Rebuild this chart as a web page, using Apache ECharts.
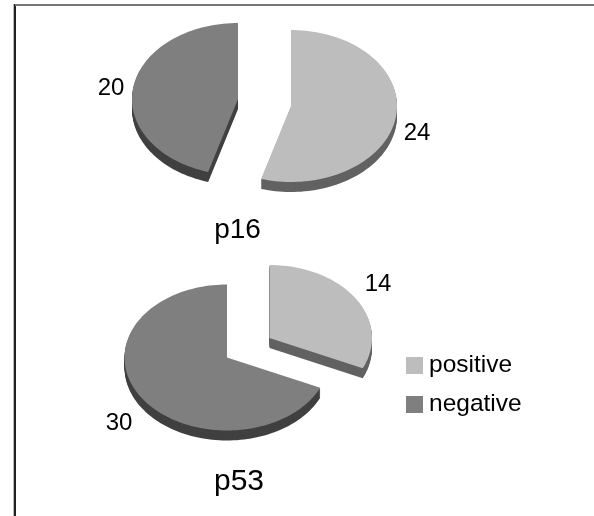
<!DOCTYPE html>
<html>
<head>
<meta charset="utf-8">
<style>html,body{margin:0;padding:0;background:#fff}#chart{width:594px;height:516px}</style>
<script src="https://cdn.jsdelivr.net/npm/echarts@6/dist/echarts.min.js"></script>
</head>
<body>
<div id="chart"></div>
<script>
// Positive / negative case counts for each marker
const categories = ['positive', 'negative'];
const markers = ['p16', 'p53'];
const positiveCounts = [24, 14];
const negativeCounts = [20, 30];

// Tilted-pie geometry for each marker: apex of every exploded slice and ellipse radii
const layouts = {
  p16: { rx: 106, ry: 76, depth: 10, apex: { positive: [291, 106], negative: [238, 99] } },
  p53: { rx: 102.5, ry: 73, depth: 10, apex: { positive: [269.5, 338], negative: [227, 357.5] } }
};
const labelAnchors = {
  p16: { positive: [417, 133], negative: [111, 88] },
  p53: { positive: [378, 284], negative: [119, 423] }
};
const styles = {
  positive: { top: '#bdbdbd', side: '#626262' },
  negative: { top: '#7f7f7f', side: '#404040' }
};

const FONT = '"Liberation Sans", Arial, sans-serif';

// Sector outline on the tilted ellipse; angles run from 12 o'clock
function sectorPoints(apex, rx, ry, startDeg, endDeg, shift) {
  const pts = [[apex[0], apex[1] + shift]];
  const steps = Math.ceil(Math.abs(endDeg - startDeg) / 2);
  for (let i = 0; i <= steps; i++) {
    const a = (startDeg + (endDeg - startDeg) * i / steps) * Math.PI / 180;
    pts.push([apex[0] + rx * Math.sin(a), apex[1] + shift - ry * Math.cos(a)]);
  }
  return pts;
}

// One custom series per category; clockwise for positive, counter-clockwise for negative
function makeSeries(category, values, direction) {
  return {
    type: 'custom',
    name: category,
    coordinateSystem: 'none',
    itemStyle: { color: styles[category].top },
    data: values.map((v, i) => ({ value: [i, v], name: markers[i] })),
    renderItem(params, api) {
      const idx = api.value(0);
      const value = api.value(1);
      const marker = markers[idx];
      const g = layouts[marker];
      const total = positiveCounts[idx] + negativeCounts[idx];
      const sweep = value / total * 360 * direction;
      const apex = g.apex[category];
      const children = [];
      // Extruded wall: the same sector stacked downward
      for (let s = g.depth; s >= 1; s--) {
        children.push({
          type: 'polygon',
          shape: { points: sectorPoints(apex, g.rx, g.ry, 0, sweep, s) },
          style: { fill: styles[category].side }
        });
      }
      children.push({
        type: 'polygon',
        shape: { points: sectorPoints(apex, g.rx, g.ry, 0, sweep, 0) },
        style: { fill: styles[category].top }
      });
      const anchor = labelAnchors[marker][category];
      children.push({
        type: 'text',
        style: {
          x: anchor[0], y: anchor[1], text: String(value),
          fill: '#000', font: '24px ' + FONT, align: 'center', verticalAlign: 'middle'
        }
      });
      return { type: 'group', children };
    }
  };
}

const chart = echarts.init(document.getElementById('chart'), null, { renderer: 'canvas' });
chart.setOption({
  animation: false,
  backgroundColor: '#fff',
  title: [
    { text: markers[0], left: 232.5, top: 225, textAlign: 'center', textVerticalAlign: 'middle',
      textStyle: { fontFamily: FONT, fontSize: 28, fontWeight: 'normal', color: '#000' } },
    { text: markers[1], left: 234, top: 477, textAlign: 'center', textVerticalAlign: 'middle',
      textStyle: { fontFamily: FONT, fontSize: 30, fontWeight: 'normal', color: '#000' } }
  ],
  legend: {
    data: categories,
    orient: 'vertical',
    left: 406,
    top: 353,
    itemWidth: 17,
    itemHeight: 17,
    itemGap: 14,
    icon: 'rect',
    padding: 0,
    selectedMode: false,
    textStyle: { fontFamily: FONT, fontSize: 24.5, color: '#000', padding: [0, 0, 0, 1] }
  },
  graphic: [
    { type: 'rect', shape: { x: 13, y: 4, width: 1, height: 512 }, style: { fill: '#bbb' } },
    { type: 'rect', shape: { x: 14, y: 4, width: 2, height: 512 }, style: { fill: '#222' } },
    { type: 'rect', shape: { x: 15, y: 4, width: 579, height: 2 }, style: { fill: '#777' } }
  ],
  series: [
    makeSeries('positive', positiveCounts, 1),
    makeSeries('negative', negativeCounts, -1)
  ]
});
</script>
</body>
</html>
